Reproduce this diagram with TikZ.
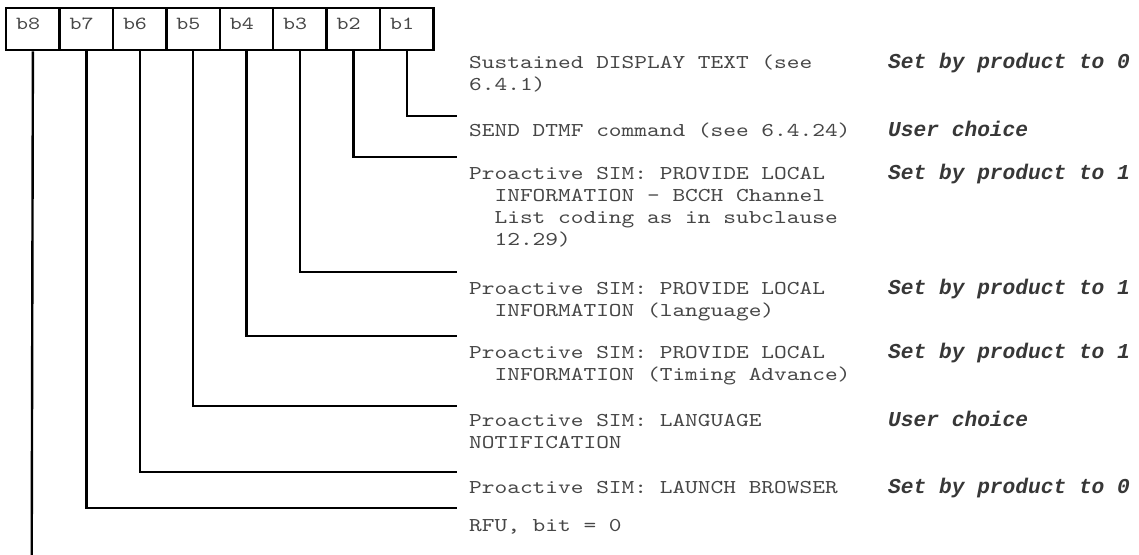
\documentclass[tikz,border=0pt]{standalone}
\usepackage{fontspec}
\newfontfamily\mono{Liberation Mono}
\newfontfamily\lmm{lmmono10-regular.otf}[FakeStretch=1.235]
\definecolor{txt}{RGB}{70,70,70}
\definecolor{txtb}{RGB}{55,55,55}
\begin{document}
\begin{tikzpicture}[x=1pt,y=-1pt,
  bitbox/.style={draw,line width=2.4pt,minimum width=53.4pt,minimum height=42pt,inner sep=0pt,anchor=north west},
  bitlbl/.style={anchor=base west,inner sep=0pt,text=txt,font=\lmm\fontsize{18.5}{20}\selectfont},
  desc/.style={anchor=base west,inner sep=0pt,text=txt,font=\lmm\fontsize{19.6}{24}\selectfont},
  val/.style={anchor=base west,inner sep=0pt,text=txtb,font=\mono\bfseries\itshape\fontsize{21.2}{24}\selectfont},
  conn/.style={line width=2.4pt}]
\useasboundingbox (0,0) rectangle (1139,554);
% bit boxes
\node[bitbox] (b8) at (5,7) {};
\node[bitbox] (b7) at (58.4,7) {};
\node[bitbox] (b6) at (111.8,7) {};
\node[bitbox] (b5) at (165.2,7) {};
\node[bitbox] (b4) at (218.6,7) {};
\node[bitbox] (b3) at (272,7) {};
\node[bitbox] (b2) at (325.4,7) {};
\node[bitbox] (b1) at (378.8,7) {};
\node[bitlbl] (l8) at (16,29) {b8};
\node[bitlbl] (l7) at (69.4,29) {b7};
\node[bitlbl] (l6) at (122.8,29) {b6};
\node[bitlbl] (l5) at (176.2,29) {b5};
\node[bitlbl] (l4) at (229.6,29) {b4};
\node[bitlbl] (l3) at (283,29) {b3};
\node[bitlbl] (l2) at (336.4,29) {b2};
\node[bitlbl] (l1) at (389.8,29) {b1};
% connector ends
\coordinate (e1) at (457,116);
\coordinate (e2) at (457,157);
\coordinate (e3) at (457,272);
\coordinate (e4) at (457,336);
\coordinate (e5) at (457,406);
\coordinate (e6) at (457,472);
\coordinate (e7) at (457,508);
\coordinate (e8) at (31.7,556);
\draw[conn] (b1.south) |- (e1);
\draw[conn] (b2.south) |- (e2);
\draw[conn] (b3.south) |- (e3);
\draw[conn] (b4.south) |- (e4);
\draw[conn] (b5.south) |- (e5);
\draw[conn] (b6.south) |- (e6);
\draw[conn] (b7.south) |- (e7);
\draw[conn] (b8.south) -- (e8);
% descriptions
\node[desc] (t1a) at (469,68) {Sustained DISPLAY TEXT (see};
\node[desc] (t1b) at (469,90) {6.4.1)};
\node[desc] (t2) at (469,136) {SEND DTMF command (see 6.4.24)};
\node[desc] (t3a) at (469,179) {Proactive SIM: PROVIDE LOCAL};
\node[desc] (t3b) at (494.4,201) {INFORMATION - BCCH Channel};
\node[desc] (t3c) at (494.4,223) {List coding as in subclause};
\node[desc] (t3d) at (494.4,245) {12.29)};
\node[desc] (t4a) at (469,294) {Proactive SIM: PROVIDE LOCAL};
\node[desc] (t4b) at (494.4,316) {INFORMATION (language)};
\node[desc] (t5a) at (469,358) {Proactive SIM: PROVIDE LOCAL};
\node[desc] (t5b) at (494.4,380) {INFORMATION (Timing Advance)};
\node[desc] (t6a) at (469,426) {Proactive SIM: LANGUAGE};
\node[desc] (t6b) at (469,448) {NOTIFICATION};
\node[desc] (t7) at (469,493) {Proactive SIM: LAUNCH BROWSER};
\node[desc] (t8) at (469,531) {RFU, bit = 0};
% values
\node[val] (r1) at (888,68) {Set by product to 0};
\node[val] (r2) at (888,136) {User choice};
\node[val] (r3) at (888,179) {Set by product to 1};
\node[val] (r4) at (888,294) {Set by product to 1};
\node[val] (r5) at (888,358) {Set by product to 1};
\node[val] (r6) at (888,426) {User choice};
\node[val] (r7) at (888,493) {Set by product to 0};
\end{tikzpicture}
\end{document}
